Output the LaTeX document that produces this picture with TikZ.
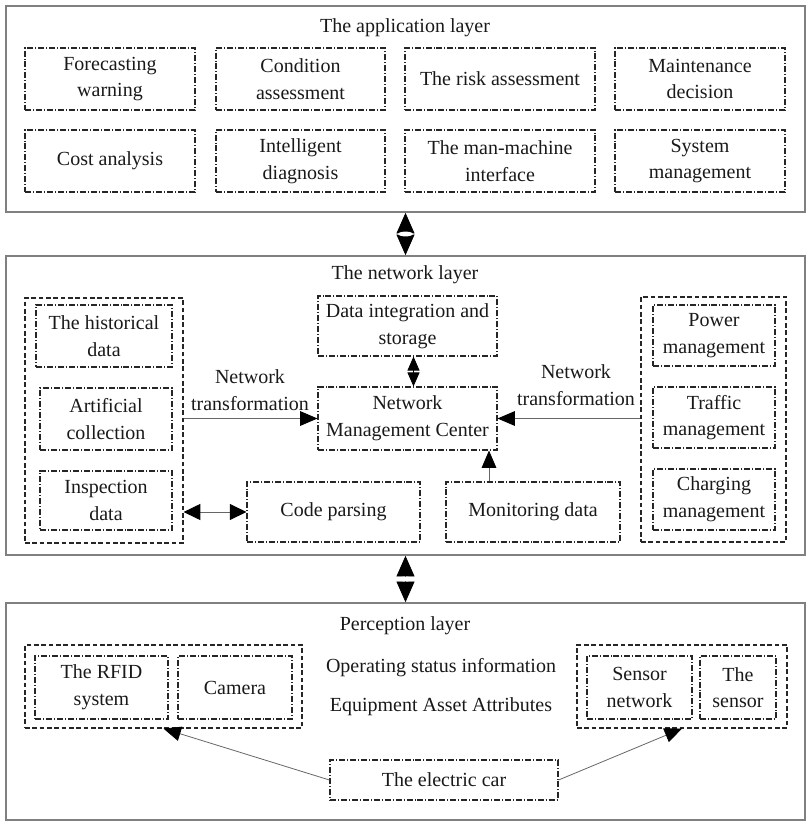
\documentclass[tikz,border=0pt]{standalone}
\usepackage{fontspec}
\setmainfont{Liberation Serif}
\usetikzlibrary{arrows.meta,calc}
\begin{document}
\begin{tikzpicture}[x=0.75pt,y=-0.75pt,
  every node/.style={font=\fontsize{15}{20}\selectfont, align=center, text=black!90},
  sz/.style 2 args={minimum width=#1*0.75pt, minimum height=#2*0.75pt, inner sep=0pt},
  layer/.style={draw=black!50, line width=1.2pt},
  ibox/.style={draw=black!85, line width=0.8pt, dash pattern=on 4.5pt off 1.5pt on 0.7pt off 1.5pt},
  grp/.style={draw=black!85, line width=0.9pt, dash pattern=on 3.5pt off 2pt},
  conn/.style={draw=black!60, line width=0.6pt},
  arr/.style={conn, -{Triangle[length=13pt,width=11pt,color=black]}},
  dbl/.style={conn, {Triangle[length=12.5pt,width=12pt,color=black]}-{Triangle[length=12.5pt,width=12pt,color=black]}},
  bigdbl/.style={draw=black, line width=0.6pt, {Triangle[length=15.5pt,width=13.5pt]}-{Triangle[length=15.5pt,width=13.5pt]}},
  smalldbl/.style={draw=black, line width=0.6pt, {Triangle[length=10.5pt,width=9pt]}-{Triangle[length=10.5pt,width=9pt]}}
]
\useasboundingbox (0,0) rectangle (810,826);

% layers
\node[layer, sz={799}{206}] (app) at (405.5,109) {};
\node[layer, sz={799}{299}] (net) at (405.5,405.5) {};
\node[layer, sz={799}{217}] (per) at (405.5,711.5) {};

\node (apptitle) at (405,28) {The application layer};
\node (nettitle) at (405,275) {The network layer};
\node (pertitle) at (405,626) {Perception layer};

% application layer
\node[ibox, sz={170}{62}] (fw) at (110,79) {Forecasting\\warning};
\node[ibox, sz={169}{62}] (ca) at (300.5,79) {Condition\\assessment};
\node[ibox, sz={190}{62}] (ra) at (500,79) {The risk assessment};
\node[ibox, sz={170}{62}] (md) at (700,79) {Maintenance\\decision};
\node[ibox, sz={170}{62}] (cost) at (110,161) {Cost analysis};
\node[ibox, sz={169}{62}] (diag) at (300.5,161) {Intelligent\\diagnosis};
\node[ibox, sz={190}{62}] (hmi) at (500,161) {The man-machine\\interface};
\node[ibox, sz={170}{62}] (sm) at (700,161) {System\\management};

% network layer
\node[grp, sz={158}{245}] (lg) at (104,420.5) {};
\node[ibox, sz={136}{62}] (hd) at (104,336) {The historical\\data};
\node[ibox, sz={132}{62}] (ac) at (106,419) {Artificial\\collection};
\node[ibox, sz={132}{59}] (id) at (106,500.5) {Inspection\\data};

\node[grp, sz={145}{245}] (rg) at (713.5,419.5) {};
\node[ibox, sz={122}{61}] (pm) at (714,335.5) {Power\\management};
\node[ibox, sz={122}{61}] (tm) at (714,417.5) {Traffic\\management};
\node[ibox, sz={122}{61}] (cm) at (714,499.5) {Charging\\management};

\node[ibox, sz={179}{60}] (dis) at (407.5,326) {Data integration and\\storage};
\node[ibox, sz={179}{63}] (nmc) at (407.5,418.5) {Network\\Management Center};
\node[ibox, sz={173}{60}] (cp) at (333.5,512) {Code parsing};
\node[ibox, sz={174}{60}] (mon) at (533,512) {Monitoring data};

\node (ltrans) at (250,390) {Network\\transformation};
\node (rtrans) at (576,385) {Network\\transformation};

% perception layer
\node[grp, sz={277}{83}] (plg) at (163.5,686.5) {};
\node[ibox, sz={133}{63}] (rfid) at (101.5,687.5) {The RFID\\system};
\node[ibox, sz={114}{63}] (cam) at (235,687.5) {Camera};
\node[grp, sz={210}{83}] (prg) at (682,686.5) {};
\node[ibox, sz={105}{63}] (sn) at (639.5,687.5) {Sensor\\network};
\node[ibox, sz={76}{63}] (ts) at (738,687.5) {The\\sensor};
\node (osi) at (441,668) {Operating status information};
\node (eaa) at (441,707) {Equipment Asset Attributes};
\node[ibox, sz={228}{40}] (car) at (444,780) {The electric car};

% connectors
\draw[bigdbl] (app.south) -- (net.north);
\fill[white] ($(app.south)!0.5!(net.north)$) ellipse [x radius=5.5pt, y radius=1.8pt];
\draw[bigdbl] (net.south) -- (per.north);
\fill[white] ($(net.south)!0.5!(per.north)$) ellipse [x radius=5.5pt, y radius=1.8pt];

\draw[smalldbl] ([xshift=4.5pt]dis.south) -- ([xshift=4.5pt]nmc.north);
\draw[arr] (lg.east |- nmc.west) -- (nmc.west);
\draw[arr] (rg.west |- nmc.east) -- (nmc.east);
\draw[arr] ([xshift=-33pt]mon.north) -- ([xshift=-33pt]mon.north |- nmc.south);
\draw[dbl] (lg.east |- cp.west) -- (cp.west);

\draw[arr] (car.west) -- (plg.south);
\draw[arr] (car.east) -- (prg.south);
\end{tikzpicture}
\end{document}
